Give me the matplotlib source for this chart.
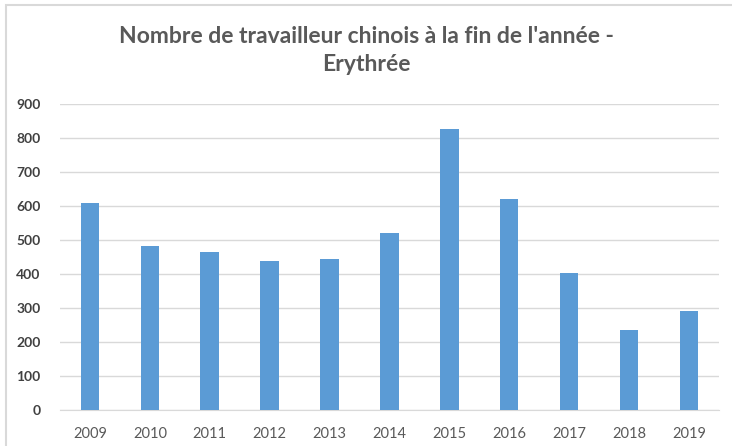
import matplotlib
matplotlib.use("Agg")
import matplotlib.pyplot as plt
from matplotlib.patches import Rectangle

annees = ["2009", "2010", "2011", "2012", "2013", "2014", "2015", "2016", "2017", "2018", "2019"]
travailleurs = [608, 481, 465, 439, 444, 520, 828, 621, 403, 235, 292]
graduations = [0, 100, 200, 300, 400, 500, 600, 700, 800, 900]

plt.rcParams['font.family'] = ['Lato', 'DejaVu Sans']

fig = plt.figure(figsize=(7.32, 4.46), dpi=100)
ax = fig.add_axes([0.082, 0.0807, 0.9, 0.686])

x = range(len(annees))
ax.bar(x, travailleurs, width=0.31, color="#5B9BD5", zorder=3)

ax.set_xlim(-0.5, len(annees) - 0.5)
ax.set_ylim(0, 900)
ax.set_yticks(graduations)
ax.set_xticks(list(x))
ax.set_xticklabels(annees)
ax.grid(axis="y", color="#d9d9d9", linewidth=1, zorder=0)
for s in ["top", "right", "left"]:
    ax.spines[s].set_visible(False)
ax.spines["bottom"].set_color("#d9d9d9")
ax.tick_params(axis="both", length=0)
ax.tick_params(axis="y", pad=14, labelsize=10, labelcolor="#404040")
ax.tick_params(axis="x", pad=12, labelsize=10.5, labelcolor="#595959")
for lab in ax.get_yticklabels():
    lab.set_fontweight("bold")

fig.text(0.5, 0.886, "Nombre de travailleur chinois à la fin de l'année -\nErythrée",
         ha="center", va="center", fontsize=16.5, fontweight="bold", color="#595959",
         linespacing=1.4)

# cadre gris autour du graphique
fig.patches.append(Rectangle((6 / 732, -0.01), 1.0, 1 - 5 / 446 + 0.01, transform=fig.transFigure,
                             fill=False, edgecolor="#d9d9d9", linewidth=1.5))

fig.savefig("out.png", dpi=100)
